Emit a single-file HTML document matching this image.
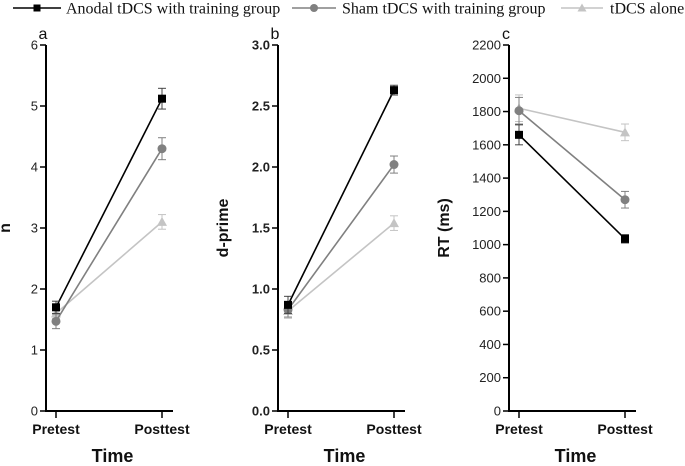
<!DOCTYPE html>
<html><head><meta charset="utf-8"><style>
html,body{margin:0;padding:0;background:#fff;}
svg{display:block;}
</style></head><body>
<svg id="chart" width="685" height="466" xmlns="http://www.w3.org/2000/svg" font-family="Liberation Sans, Arial, sans-serif"></svg>
<script>
const timeCategories = ["Pretest", "Posttest"];
const seriesNames = ["Anodal tDCS with training group", "Sham tDCS with training group", "tDCS alone"];
// panel a: n
const nAnodal = [1.7, 5.12];
const nSham = [1.47, 4.3];
const nAlone = [1.6, 3.1];
const nAnodalErr = [0.1, 0.17];
const nShamErr = [0.12, 0.18];
const nAloneErr = [0.08, 0.12];
const nTicks = ["0","1","2","3","4","5","6"];
// panel b: d-prime
const dAnodal = [0.87, 2.63];
const dSham = [0.83, 2.02];
const dAlone = [0.82, 1.54];
const dAnodalErr = [0.07, 0.04];
const dShamErr = [0.06, 0.07];
const dAloneErr = [0.06, 0.06];
const dTicks = ["0.0","0.5","1.0","1.5","2.0","2.5","3.0"];
// panel c: RT
const rtAnodal = [1660, 1035];
const rtSham = [1805, 1270];
const rtAlone = [1820, 1675];
const rtAnodalErr = [60, 25];
const rtShamErr = [80, 50];
const rtAloneErr = [80, 50];
const rtTicks = ["0","200","400","600","800","1000","1200","1400","1600","1800","2000","2200"];

const NS = "http://www.w3.org/2000/svg";
const svg = document.getElementById("chart");
function mk(tag, attrs, parent){
  const e = document.createElementNS(NS, tag);
  for (const k in attrs) e.setAttribute(k, attrs[k]);
  (parent||svg).appendChild(e);
  return e;
}
const colors = ["#000000", "#808080", "#c4c4c4"];
const markers = ["square", "circle", "triangle"];

function marker(g, type, x, y, color, s){
  let m;
  if (type === "square") m = mk("rect", {x:x-s/2, y:y-s/2, width:s, height:s, fill:color}, g);
  else if (type === "circle") m = mk("circle", {cx:x, cy:y, r:s/2+0.5, fill:color}, g);
  else m = mk("polygon", {points:`${x},${y-s/2-1} ${x-s/2-1},${y+s/2} ${x+s/2+1},${y+s/2}`, fill:color}, g);
  return m;
}

const yTop = 45, yBottom = 411;
function panel(cfg){
  const g = mk("g", {});
  
  
  const ax = cfg.ax, xEnd = ax + 127;
  const xs = [ax + 10, ax + 116];
  const ymax = cfg.max;
  const yScale = v => yBottom - (v / ymax) * (yBottom - yTop);
  const xScale = i => xs[i];
  const ya = mk("line", {x1:ax, y1:yTop, x2:ax, y2:yBottom+1, stroke:"#000", "stroke-width":2}, g);
  
  
  const xa = mk("line", {x1:ax-1, y1:yBottom, x2:xEnd, y2:yBottom, stroke:"#000", "stroke-width":2}, g);
  
  
  cfg.ticks.forEach((t) => {
    const v = parseFloat(t);
    const y = yScale(v);
    mk("line", {x1:ax-6, y1:y, x2:ax, y2:y, stroke:"#000", "stroke-width":1.5}, g);
    const tx = mk("text", {x:ax-8, y:y+4.5, "text-anchor":"end", "font-size":13, "font-weight":cfg.boldTicks?"bold":"normal", fill:"#222"}, g);
    tx.textContent = t;
    
    
  });
  timeCategories.forEach((c, i) => {
    const x = xScale(i);
    mk("line", {x1:x, y1:yBottom, x2:x, y2:yBottom+7, stroke:"#000", "stroke-width":1.5}, g);
    const tx = mk("text", {x:x, y:yBottom+23, "text-anchor":"middle", "font-size":14, "font-weight":"bold", fill:"#111"}, g);
    tx.textContent = c;
    
    
  });
  const xt = mk("text", {x:(ax+xEnd)/2 + 3, y:yBottom+51, "text-anchor":"middle", "font-size":18, "font-weight":"bold", fill:"#111"}, g);
  xt.textContent = "Time";
  
  
  const yt = mk("text", {x:0, y:0, "text-anchor":"middle", "font-size":16, "font-weight":"bold", fill:"#111", transform:`translate(${cfg.titleX},${(yTop+yBottom)/2}) rotate(-90)`}, g);
  yt.textContent = cfg.title;
  
  
  const lt = mk("text", {x:ax-3, y:yTop-6, "text-anchor":"middle", "font-size":16, fill:"#111"}, g);
  lt.textContent = cfg.letter;
  
  
  [2,1,0].forEach(si => {
    const vals = cfg.series[si], errs = cfg.errs[si], col = colors[si];
    const sg = mk("g", {}, g);
    
    
    mk("line", {x1:xScale(0), y1:yScale(vals[0]), x2:xScale(1), y2:yScale(vals[1]), stroke:col, "stroke-width":1.6}, sg);
    vals.forEach((v, i) => {
      const x = xScale(i), y1 = yScale(v+errs[i]), y2 = yScale(v-errs[i]);
      const ecol = si===0 ? "#444" : col;
      mk("line", {x1:x, y1:y1, x2:x, y2:y2, stroke:ecol, "stroke-width":1}, sg);
      mk("line", {x1:x-4, y1:y1, x2:x+4, y2:y1, stroke:ecol, "stroke-width":1}, sg);
      mk("line", {x1:x-4, y1:y2, x2:x+4, y2:y2, stroke:ecol, "stroke-width":1}, sg);
      const m = marker(sg, markers[si], x, yScale(v), col, 8);
      
      
    });
  });
}

panel({name:"panel-a-n", ax:46, max:6, ticks:nTicks, boldTicks:false, title:"n", titleX:10, letter:"a",
  series:[nAnodal,nSham,nAlone], errs:[nAnodalErr,nShamErr,nAloneErr]});
panel({name:"panel-b-dprime", ax:278, max:3, ticks:dTicks, boldTicks:true, title:"d-prime", titleX:228, letter:"b",
  series:[dAnodal,dSham,dAlone], errs:[dAnodalErr,dShamErr,dAloneErr]});
panel({name:"panel-c-rt", ax:509, max:2200, ticks:rtTicks, boldTicks:false, title:"RT (ms)", titleX:449, letter:"c",
  series:[rtAnodal,rtSham,rtAlone], errs:[rtAnodalErr,rtShamErr,rtAloneErr]});

const legend = mk("g", {});


const legX = [[13,61,66],[292,336,342],[561,603,610]];
seriesNames.forEach((n, i) => {
  const eg = mk("g", {}, legend);
  
  
  const [x1,x2,tx] = legX[i];
  mk("line", {x1:x1, y1:8, x2:x2, y2:8, stroke:colors[i], "stroke-width":1.6}, eg);
  marker(eg, markers[i], (x1+x2)/2, 8, colors[i], 7);
  const t = mk("text", {x:tx, y:13.5, "font-size":16, "font-family":"Liberation Serif, Times New Roman, serif", fill:"#111"}, eg);
  t.textContent = n;
});
</script>
</body></html>
